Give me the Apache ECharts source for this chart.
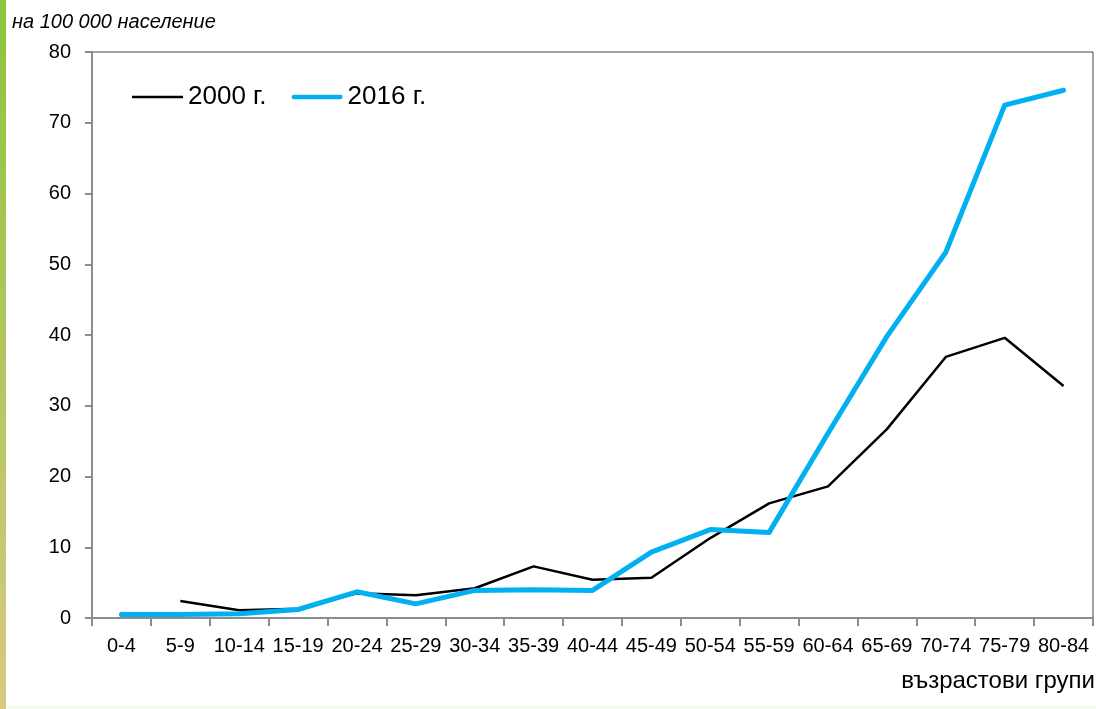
<!DOCTYPE html>
<html>
<head>
<meta charset="utf-8">
<script src="https://cdn.jsdelivr.net/npm/echarts@6/dist/echarts.min.js"></script>
<style>
html,body{margin:0;padding:0;background:#fff;}
#c{width:1096px;height:709px;}
</style>
</head>
<body>
<div id="c"></div>
<script>
const categories = ['0-4','5-9','10-14','15-19','20-24','25-29','30-34','35-39','40-44','45-49','50-54','55-59','60-64','65-69','70-74','75-79','80-84'];
const series2000 = [null, 2.4, 1.1, 1.3, 3.5, 3.2, 4.2, 7.3, 5.4, 5.7, 11.3, 16.2, 18.6, 26.7, 36.9, 39.6, 32.8];
const series2016 = [0.5, 0.5, 0.6, 1.2, 3.7, 2.0, 3.9, 4.0, 3.9, 9.3, 12.5, 12.1, 26.1, 39.8, 51.7, 72.5, 74.6];
const seriesNames = ['2000 г.', '2016 г.'];
const yTitle = 'на 100 000 население';
const xTitle = 'възрастови групи';

const chart = echarts.init(document.getElementById('c'));
const font = '"Liberation Sans", Arial, sans-serif';
chart.setOption({
  animation: false,
  textStyle: {fontFamily: font},
  graphic: [
    {type: 'rect', left: 0, top: 0, shape: {width: 6, height: 709}, z: -1,
     style: {fill: new echarts.graphic.LinearGradient(0, 0, 0, 1, [
       {offset: 0, color: '#8cc43c'}, {offset: 1, color: '#d8c982'}])}},
    {type: 'rect', left: 6, top: 705, shape: {width: 1090, height: 4}, z: -1, style: {fill: '#f6fbef'}},
    {type: 'text', left: 12, top: 12, style: {text: yTitle, font: 'italic 20px ' + font, fill: '#000'}},
    {type: 'text', right: 1, top: 669, style: {text: xTitle, font: '24px ' + font, fill: '#000'}}
  ],
  grid: {left: 92, right: 3, top: 52, bottom: 91, show: true, borderColor: '#444', borderWidth: 1, backgroundColor: 'transparent'},
  legend: {
    left: 132, top: 84, padding: 0, itemWidth: 51, itemHeight: 14, itemGap: 25,
    textStyle: {fontSize: 26, color: '#000', fontFamily: font},
    data: [
      {name: seriesNames[0], icon: 'path://M0,0 L50,0 L50,2.5 L0,2.5 Z', itemStyle: {color: '#000'}},
      {name: seriesNames[1], icon: 'path://M2.5,0 L51.5,0 A2.5,2.5 0 0 1 51.5,5 L2.5,5 A2.5,2.5 0 0 1 2.5,0 Z', itemStyle: {color: '#00b0f0'}}
    ]
  },
  xAxis: {
    type: 'category', data: categories, boundaryGap: true,
    axisLine: {lineStyle: {color: '#8c8c8c', width: 2}},
    axisTick: {show: true, interval: 0, length: 8, lineStyle: {color: '#8c8c8c', width: 2}},
    axisLabel: {color: '#000', fontSize: 20, margin: 18, interval: 0, fontFamily: font},
    splitLine: {show: false}
  },
  yAxis: {
    type: 'value', min: 0, max: 80, interval: 10,
    axisLine: {show: true, lineStyle: {color: '#8c8c8c', width: 2}},
    axisTick: {show: true, length: 7, lineStyle: {color: '#8c8c8c', width: 2}},
    axisLabel: {color: '#000', fontSize: 20, margin: 21, fontFamily: font},
    splitLine: {show: false}
  },
  series: [
    {name: seriesNames[0], type: 'line', data: series2000, showSymbol: false, symbol: 'none',
     lineStyle: {color: '#000', width: 2.5}, itemStyle: {color: '#000'}, z: 2},
    {name: seriesNames[1], type: 'line', data: series2016, showSymbol: false, symbol: 'none',
     lineStyle: {color: '#00b0f0', width: 5, cap: 'round', join: 'round'}, itemStyle: {color: '#00b0f0'}, z: 3}
  ]
});
</script>
</body>
</html>
